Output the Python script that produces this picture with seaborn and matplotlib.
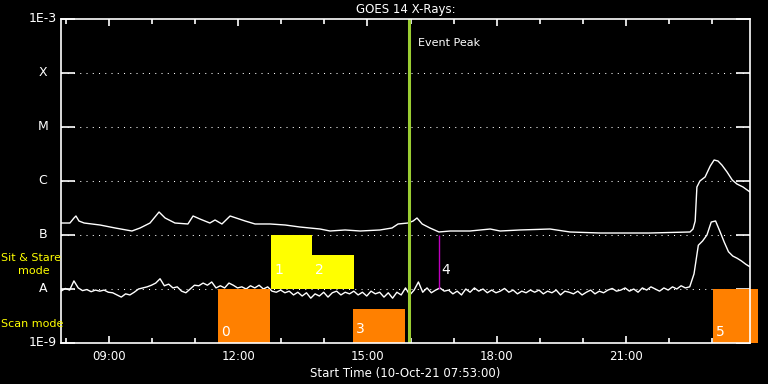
import numpy as np
import pandas as pd
import seaborn as sns
import matplotlib.pyplot as plt

# time axis in hours since 00:00 of 10-Oct-21, start 07:53
t_start = 7.883
t_end = 23.883

# long channel (1-8 A), log10 flux
long_hours = [7.883, 8.09, 8.185, 8.23, 8.30, 8.42, 8.79, 9.14, 9.53, 9.72, 9.95, 10.16, 10.30,
              10.53, 10.83, 10.95, 11.11, 11.34, 11.46, 11.62, 11.81, 12.16, 12.39, 12.74, 13.09,
              13.43, 13.90, 14.13, 14.48, 14.83, 15.29, 15.57, 15.71, 15.94, 16.06, 16.15, 16.27,
              16.45, 16.66, 16.92, 17.38, 17.85, 18.08, 18.54, 19.24, 19.70, 20.40, 21.56, 22.49,
              22.56, 22.61, 22.65, 22.72, 22.84, 22.96, 23.05, 23.14, 23.23, 23.35, 23.47, 23.58,
              23.72, 23.883]
long_log = [-6.778, -6.778, -6.685, -6.648, -6.741, -6.778, -6.815, -6.870, -6.926, -6.870, -6.778,
            -6.574, -6.685, -6.778, -6.796, -6.648, -6.704, -6.778, -6.722, -6.796, -6.648, -6.741,
            -6.796, -6.796, -6.815, -6.852, -6.889, -6.926, -6.907, -6.926, -6.907, -6.870, -6.796,
            -6.778, -6.741, -6.685, -6.796, -6.870, -6.944, -6.926, -6.926, -6.889, -6.926, -6.907,
            -6.889, -6.944, -6.963, -6.963, -6.944, -6.889, -6.741, -6.111, -6.000, -5.926, -5.722,
            -5.611, -5.630, -5.704, -5.833, -5.981, -6.056, -6.111, -6.204]

# short channel (0.5-4 A), log10 flux every 6 minutes
short_log = [
    -8.04, -7.99, -8.02, -7.85, -7.98, -8.03, -8.01, -8.05, -8.02, -8.04,
    -8.02, -8.06, -8.07, -8.11, -8.15, -8.09, -8.11, -8.06, -8.00, -7.98,
    -7.96, -7.93, -7.89, -7.81, -7.94, -7.91, -7.98, -7.96, -8.04, -8.07,
    -8.00, -7.93, -7.94, -7.89, -7.93, -7.87, -7.98, -7.94, -7.98, -7.89,
    -7.93, -7.98, -7.96, -8.00, -7.94, -7.98, -7.93, -8.00, -7.96, -8.04,
    -8.06, -8.02, -8.07, -8.04, -8.11, -8.06, -8.13, -8.07, -8.17, -8.09,
    -8.13, -8.06, -8.15, -8.07, -8.04, -8.11, -8.06, -8.09, -8.04, -8.11,
    -8.06, -8.13, -8.04, -8.09, -8.06, -8.15, -8.07, -8.17, -8.06, -8.11,
    -7.98, -8.11, -8.02, -7.87, -8.06, -7.98, -8.07, -8.02, -7.98, -8.04,
    -8.02, -8.09, -8.04, -8.11, -8.00, -8.06, -7.98, -8.04, -8.00, -8.07,
    -8.02, -8.07, -8.04, -7.99, -8.06, -8.02, -8.09, -8.04, -8.07, -8.02,
    -8.06, -8.02, -8.09, -8.04, -8.07, -8.02, -8.11, -8.04, -8.06, -8.09,
    -8.04, -8.11, -8.06, -8.02, -8.09, -8.04, -8.07, -8.02, -7.99, -8.04,
    -8.02, -7.98, -8.04, -8.00, -8.06, -7.98, -8.02, -7.96, -8.00, -8.04,
    -7.98, -8.02, -7.96, -8.00, -7.94, -7.98, -7.96, -7.72, -7.19, -7.11,
    -7.00, -6.76, -6.74, -6.93, -7.13, -7.31, -7.39, -7.43, -7.48, -7.54,
    -7.59]
short_hours = t_start + np.arange(len(short_log)) * 0.1

# observation boxes: id, start, end, bottom, top, colour, label y
box_ids = ["0", "1", "2", "3", "5"]
box_start = [11.53, 12.76, 13.71, 14.66, 23.02]
box_end = [12.74, 13.71, 14.69, 15.88, 24.07]
box_bottom = [1e-9, 1e-8, 1e-8, 1e-9, 1e-9]
box_top = [1e-8, 1e-7, 10 ** -7.37, 10 ** -8.37, 1e-8]
box_colors = ["#ff8000", "#ffff00", "#ffff00", "#ff8000", "#ff8000"]
box_label_y = [10 ** -8.8, 10 ** -7.65, 10 ** -7.65, 10 ** -8.74, 10 ** -8.8]

sit_line_hour = 16.66  # box 4, zero width
event_peak = 15.965

ytick_vals = [1e-9, 1e-8, 1e-7, 1e-6, 1e-5, 1e-4, 1e-3]
ytick_labels = ["1E-9", "A", "B", "C", "M", "X", "1E-3"]
xtick_vals = [9, 12, 15, 18, 21]
xtick_labels = ["09:00", "12:00", "15:00", "18:00", "21:00"]

sns.set_theme(style="ticks")
plt.rcParams['font.family'] = ['DejaVu Sans']
plt.rcParams['axes.facecolor'] = 'black'
plt.rcParams['figure.facecolor'] = 'black'

fig = plt.figure(figsize=(7.68, 3.84), dpi=100)
ax = fig.add_axes([61 / 768, 41 / 384, 689 / 768, 324 / 384])

df_long = pd.DataFrame({"t": long_hours, "flux": 10 ** np.array(long_log)})
df_short = pd.DataFrame({"t": short_hours, "flux": 10 ** np.array(short_log)})
sns.lineplot(data=df_long, x="t", y="flux", ax=ax, color="white", lw=1, estimator=None)
sns.lineplot(data=df_short, x="t", y="flux", ax=ax, color="white", lw=1, estimator=None)
ax.set_yscale("log")
ax.set_ylim(1e-9, 1e-3)
ax.set_xlim(t_start, t_end)

# dotted flare-class lines
for v in ytick_vals[1:-1]:
    ax.axhline(v, color="white", lw=0.75, ls=(0, (1, 5)), zorder=1)

# boxes
for i in range(len(box_ids)):
    ax.bar(box_start[i], box_top[i] - box_bottom[i], bottom=box_bottom[i],
           width=box_end[i] - box_start[i], align="edge", color=box_colors[i],
           lw=0, zorder=3, clip_on=(box_ids[i] != "5"))
    ax.text(box_start[i] + 0.08, box_label_y[i], box_ids[i], color="white",
            fontsize=10, va="center", ha="left", zorder=4)

ax.vlines(sit_line_hour, 1e-8, 1e-7, color="#c000c0", lw=1, zorder=3)
ax.text(sit_line_hour + 0.06, 10 ** -7.65, "4", color="white", fontsize=10,
        va="center", ha="left", zorder=4)

ax.axvline(event_peak, color="#9acd32", lw=2.2, zorder=5)
ax.text(event_peak + 0.2, 10 ** -3.45, "Event Peak", color="white", fontsize=8,
        va="center", ha="left")

# axes styling
for s in ax.spines.values():
    s.set_color("white")
    s.set_linewidth(1.2)
    s.set_zorder(6)
ax.set_yticks(ytick_vals)
ax.set_yticklabels([])
ax.yaxis.set_minor_locator(plt.NullLocator())
ax.tick_params(axis="y", which="major", direction="in", length=10, width=1.2,
               color="white", left=True, right=True)
for v, lab in zip(ytick_vals, ytick_labels):
    if lab.startswith("1E"):
        ax.text(-0.006, v, lab, transform=ax.get_yaxis_transform(), color="white",
                fontsize=9, ha="right", va="center")
    else:
        ax.text(-0.026, v, lab, transform=ax.get_yaxis_transform(), color="white",
                fontsize=9, ha="center", va="center")

ax.set_xticks(xtick_vals)
ax.set_xticklabels(xtick_labels, color="white", fontsize=8.5)
ax.set_xticks(range(8, 24), minor=True)
ax.tick_params(axis="x", which="major", direction="in", length=5, width=1.2,
               color="white", top=True, bottom=True, pad=5)
ax.tick_params(axis="x", which="minor", direction="in", length=3.5, width=1.2,
               color="white", top=True, bottom=True)
ax.set_xlabel("Start Time (10-Oct-21 07:53:00)", color="white", fontsize=8.5, labelpad=3)
ax.set_ylabel("")
ax.set_title("GOES 14 X-Rays:", color="white", fontsize=8.5, pad=4)

fig.text(1 / 768, 1 - 258 / 384, "Sit & Stare", color="#ffff00", fontsize=8,
         ha="left", va="center")
fig.text(34 / 768, 1 - 271 / 384, "mode", color="#ffff00", fontsize=8,
         ha="center", va="center")
fig.text(1 / 768, 1 - 324 / 384, "Scan mode", color="#ffff00", fontsize=8,
         ha="left", va="center")

fig.savefig("out.png", dpi=100, facecolor="black")
